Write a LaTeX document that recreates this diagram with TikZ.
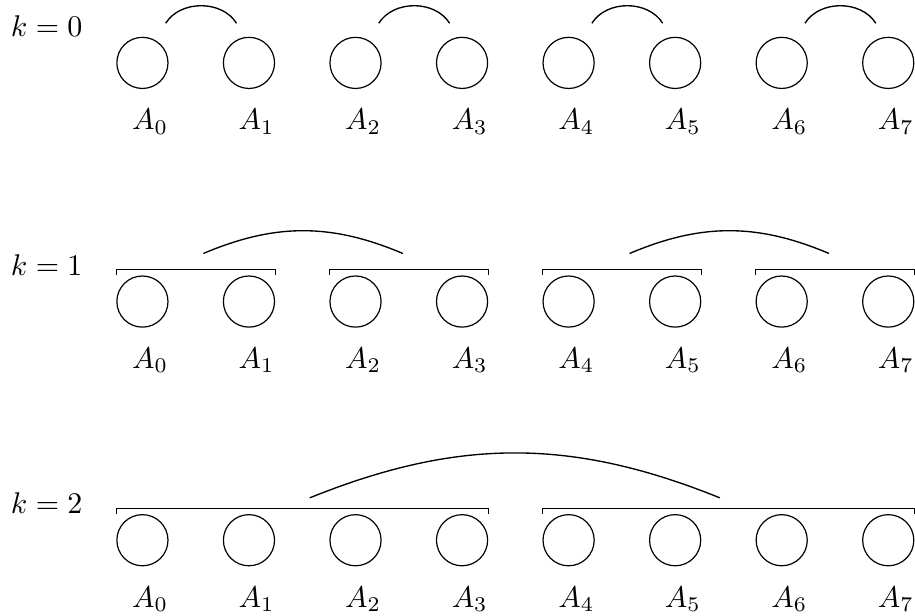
\documentclass[tikz,border=0pt]{standalone}
\usepackage{amsmath}
\usetikzlibrary{positioning,calc}

\begin{document}
\begin{tikzpicture}[
  leaf/.style={circle, draw, minimum size=0.6cm, inner sep=0pt},
  leaflabel/.style={anchor=base, inner sep=0pt},
  rowlabel/.style={anchor=base west, inner sep=0pt},
  brace/.style={line width=0.4pt},
  merge/.style={line width=0.45pt}
]
\useasboundingbox (-1.671,0.738) rectangle (9.064,-6.482);

%% ---- leaves of each level ----
\foreach \k in {0,1,2} {
  \node[rowlabel] (k\k) at (-1.55,{-2.8*\k+0.31}) {$k=\k$};
  \foreach \i in {0,...,7} {
    \node[leaf] (a\k-\i) at ({1.25*\i},{-2.8*\k}) {};
    \node[leaflabel] (l\k-\i) at ($(a\k-\i)+(0.09,-0.785)$) {$A_{\i}$};
  }
}

%% ---- k = 0: merge neighbours ----
\foreach \i/\j in {0/1,2/3,4/5,6/7}
  \draw[merge] ($(a0-\i)+(0.273,0.465)$) to[bend left=58] ($(a0-\j)+(-0.146,0.465)$);

%% ---- k = 1: pairs ----
\foreach \i/\j in {0/1,2/3,4/5,6/7}
  \draw[brace] ($(a1-\i.west)+(0,0.31)$) -- ++(0,0.062) -| ($(a1-\j.east)+(0,0.31)$);
\foreach \i/\j/\m/\n in {0/1/2/3,4/5/6/7}
  \draw[merge] ($(a1-\i)!0.5!(a1-\j)+(0.09,0.564)$) to[bend left=23]
    ($(a1-\m)!0.5!(a1-\n)+(-0.07,0.564)$);

%% ---- k = 2: quadruples ----
\foreach \i/\j in {0/3,4/7}
  \draw[brace] ($(a2-\i.west)+(0,0.31)$) -- ++(0,0.062) -| ($(a2-\j.east)+(0,0.31)$);
\draw[merge] ($(a2-0)!0.5!(a2-3)+(0.088,0.497)$) to[bend left=22]
  ($(a2-4)!0.5!(a2-7)+(-0.1,0.497)$);
\end{tikzpicture}
\end{document}
